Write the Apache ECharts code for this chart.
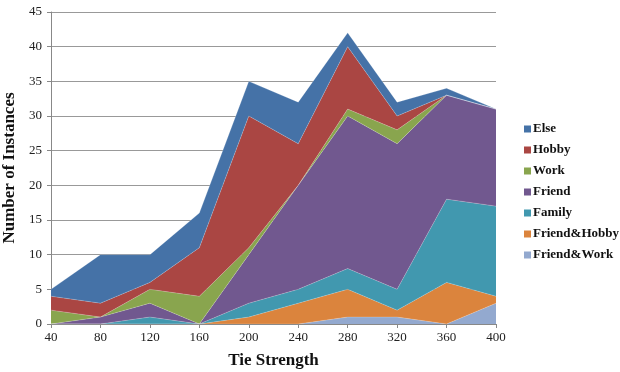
<!DOCTYPE html>
<html>
<head>
<meta charset="utf-8">
<script src="https://cdn.jsdelivr.net/npm/echarts@6/dist/echarts.min.js"></script>
<style>html,body{margin:0;padding:0;background:#fff;}#c{width:620px;height:372px;}</style>
</head>
<body>
<div id="c"></div>
<script>
var categories = ['40','80','120','160','200','240','280','320','360','400'];
var friendWork  = [0, 0, 0, 0, 0, 0, 1, 1, 0, 3];
var friendHobby = [0, 0, 0, 0, 1, 3, 4, 1, 6, 1];
var family      = [0, 0, 1, 0, 2, 2, 3, 3, 12, 13];
var friend      = [0, 1, 2, 0, 7, 15, 22, 21, 15, 14];
var work        = [2, 0, 2, 4, 1, 0, 1, 2, 0, 0];
var hobby       = [2, 2, 1, 7, 19, 6, 9, 2, 0, 0];
var other       = [1, 7, 4, 5, 5, 6, 2, 2, 1, 0];
var yTicks = [0, 5, 10, 15, 20, 25, 30, 35, 40, 45];

var font = '"Liberation Serif", "Times New Roman", serif';
var colors = {
  'Else': '#4572A7', 'Hobby': '#AA4643', 'Work': '#89A54E', 'Friend': '#71588F',
  'Family': '#4198AF', 'Friend&Hobby': '#DB843D', 'Friend&Work': '#93A9CF'
};
var seriesDefs = [
  ['Friend&Work', friendWork], ['Friend&Hobby', friendHobby], ['Family', family],
  ['Friend', friend], ['Work', work], ['Hobby', hobby], ['Else', other]
];
var series = seriesDefs.map(function (d) {
  return {
    name: d[0], type: 'line', stack: 'all', data: d[1],
    symbol: 'none', smooth: false,
    lineStyle: { width: 0.6, color: 'rgba(255,255,255,0.35)' },
    itemStyle: { color: colors[d[0]] },
    areaStyle: { color: colors[d[0]], opacity: 1 },
    emphasis: { disabled: true }, animation: false
  };
});

var chart = echarts.init(document.getElementById('c'), null, { renderer: 'canvas' });
chart.setOption({
  animation: false,
  backgroundColor: '#fff',
  grid: { left: 51, right: 124, top: 12, bottom: 48, containLabel: false, outerBoundsMode: 'none' },
  legend: {
    orient: 'vertical', left: 519, top: 117,
    data: ['Else', 'Hobby', 'Work', 'Friend', 'Family', 'Friend&Hobby', 'Friend&Work'],
    itemWidth: 7, itemHeight: 7, itemGap: 7, icon: 'rect',
    textStyle: { fontFamily: font, fontWeight: 'bold', fontSize: 13, color: '#111', lineHeight: 14, padding: [0, 0, 0, -3] }
  },
  xAxis: {
    type: 'category', data: categories, boundaryGap: false,
    name: 'Tie Strength', nameLocation: 'middle', nameGap: 28,
    nameTextStyle: { fontFamily: font, fontWeight: 'bold', fontSize: 17, color: '#111' },
    axisLine: { lineStyle: { color: '#888' } },
    axisTick: { show: true, length: 4, lineStyle: { color: '#888' }, alignWithLabel: true },
    axisLabel: { fontFamily: font, fontSize: 13, color: '#222', margin: 7 },
    splitLine: { show: false }
  },
  yAxis: {
    type: 'value', min: 0, max: 45, interval: 5,
    name: 'Number of Instances', nameLocation: 'middle', nameGap: 31, nameRotate: 90,
    nameTextStyle: { fontFamily: font, fontWeight: 'bold', fontSize: 17, color: '#111' },
    axisLine: { show: true, lineStyle: { color: '#888' } },
    axisTick: { show: true, length: 4, lineStyle: { color: '#888' } },
    axisLabel: { fontFamily: font, fontSize: 13, color: '#222', margin: 9,
      formatter: function (v) { return yTicks.indexOf(v) >= 0 ? String(v) : ''; } },
    splitLine: { show: true, lineStyle: { color: '#999', width: 1 } }
  },
  series: series
});
</script>
</body>
</html>
